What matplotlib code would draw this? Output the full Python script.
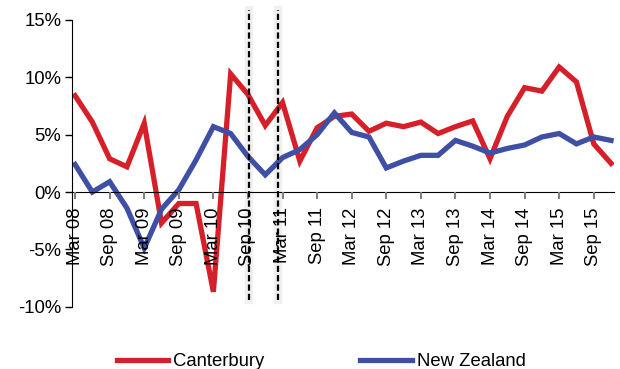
import matplotlib.pyplot as plt

plt.rcParams['font.family'] = ['Liberation Sans', 'DejaVu Sans']

quarters = ['Mar 08', 'Jun 08', 'Sep 08', 'Dec 08', 'Mar 09', 'Jun 09', 'Sep 09', 'Dec 09',
            'Mar 10', 'Jun 10', 'Sep 10', 'Dec 10', 'Mar 11', 'Jun 11', 'Sep 11', 'Dec 11',
            'Mar 12', 'Jun 12', 'Sep 12', 'Dec 12', 'Mar 13', 'Jun 13', 'Sep 13', 'Dec 13',
            'Mar 14', 'Jun 14', 'Sep 14', 'Dec 14', 'Mar 15', 'Jun 15', 'Sep 15', 'Dec 15']

canterbury = [8.4, 6.1, 2.9, 2.2, 6.0, -2.7, -1.0, -1.0,
              -8.7, 10.3, 8.5, 5.8, 7.8, 2.7, 5.6, 6.6,
              6.8, 5.3, 6.0, 5.7, 6.1, 5.1, 5.7, 6.2,
              2.9, 6.6, 9.1, 8.8, 10.9, 9.6, 4.2, 2.5]

new_zealand = [2.4, 0.0, 0.9, -1.4, -4.9, -1.5, 0.2, 2.8,
               5.7, 5.1, 3.1, 1.5, 3.0, 3.7, 5.0, 6.9,
               5.2, 4.8, 2.1, 2.7, 3.2, 3.2, 4.5, 4.0,
               3.4, 3.8, 4.1, 4.8, 5.1, 4.2, 4.8, 4.5]

# earthquake markers (Sep 2010 and Feb 2011), in quarter index units
quake_x = [10.05, 11.75]

x = list(range(len(quarters)))

fig = plt.figure(figsize=(6.2, 3.69), dpi=100)
ax = fig.add_axes([0.1166, 0.1688, 0.8734, 0.777])

red = '#D52029'
blue = '#3F4FA4'

ax.plot(x, canterbury, color=red, lw=3.8, label='Canterbury', solid_joinstyle='miter', zorder=2)
ax.plot(x, new_zealand, color=blue, lw=3.8, label='New Zealand', solid_joinstyle='miter', zorder=2)

# tick labels sit above the data lines, the dashed markers above everything
ax.xaxis.set_zorder(2.6)
ax.yaxis.set_zorder(2.6)

for qx in quake_x:
    ax.plot([qx, qx], [-9.4, 15.9], color='#f0f0f0', lw=6, clip_on=False, zorder=1.5)
    ax.plot([qx, qx], [-9.4, 15.9], color='black', lw=1.6, ls=(0, (2.8, 1.4)), clip_on=False, zorder=3)

ax.set_xlim(-0.16, 31.16)
ax.set_ylim(-10, 15)
ax.set_yticks([-10, -5, 0, 5, 10, 15])
ax.set_yticklabels([f'{v}%' for v in [-10, -5, 0, 5, 10, 15]])
ax.set_xticks(x[::2])
ax.set_xticklabels(quarters[::2])

ax.spines['top'].set_visible(False)
ax.spines['right'].set_visible(False)
ax.spines['bottom'].set_position(('data', 0))
ax.tick_params(axis='both', labelsize=13.3, length=5, width=1, colors='black', pad=3)
ax.tick_params(axis='x', color='#808080', width=1.5, pad=6, labelrotation=90)

fig.legend(loc='center', bbox_to_anchor=(0.518, 0.02), ncol=2, frameon=False,
           fontsize=13.3, handlelength=2.8, handletextpad=0.25, columnspacing=5.2)

fig.savefig('out.png', dpi=100)
